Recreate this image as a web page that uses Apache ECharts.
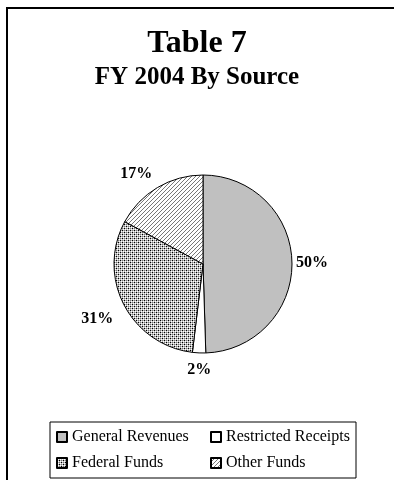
<!DOCTYPE html>
<html>
<head>
<meta charset="utf-8">
<script src="https://cdn.jsdelivr.net/npm/echarts@6/dist/echarts.min.js"></script>
<style>
html,body{margin:0;padding:0;background:#fff;}
#chart{width:394px;height:480px;}
</style>
</head>
<body>
<div id="chart"></div>
<script>
// ---- data ----
var titleText = 'Table 7';
var subtitleText = 'FY 2004 By Source';
var categories = ['General Revenues', 'Restricted Receipts', 'Federal Funds', 'Other Funds'];
var values = [49.5, 2.4, 31.0, 17.1];

// ---- patterns ----
function makeDots() {
  var c = document.createElement('canvas');
  c.width = 4; c.height = 4;
  var g = c.getContext('2d');
  g.fillStyle = '#bbbbbb'; g.fillRect(0, 0, 4, 4);
  function px(x, y, col) { g.fillStyle = col; g.fillRect(x, y, 1, 1); }
  px(0, 0, '#000'); px(2, 2, '#000');
  px(2, 0, '#777'); px(0, 2, '#777');
  px(1, 1, '#fff'); px(3, 3, '#fff'); px(1, 3, '#fff'); px(3, 1, '#fff');
  return c;
}
function makeHatch() {
  var c = document.createElement('canvas');
  c.width = 4; c.height = 4;
  var g = c.getContext('2d');
  g.fillStyle = '#ffffff'; g.fillRect(0, 0, 4, 4);
  g.fillStyle = '#777777';
  g.fillRect(0, 3, 1, 1); g.fillRect(1, 2, 1, 1); g.fillRect(2, 1, 1, 1); g.fillRect(3, 0, 1, 1);
  return c;
}
var fills = [
  '#c0c0c0',
  '#ffffff',
  { image: makeDots(), repeat: 'repeat' },
  { image: makeHatch(), repeat: 'repeat' }
];
// label placement tweaks (style only)
var labelLen = [0, 17, 30, 16];
var labelDist = [4, -13, -16, -3];

var serif = "'Liberation Serif', 'Times New Roman', Times, serif";

var data = categories.map(function (name, i) {
  return {
    name: name,
    value: values[i],
    itemStyle: { color: fills[i] },
    labelLine: { show: false, length: labelLen[i], length2: 0 },
    label: { distanceToLabelLine: labelDist[i] }
  };
});

var chart = echarts.init(document.getElementById('chart'), null, { renderer: 'canvas' });
chart.setOption({
  animation: false,
  backgroundColor: '#ffffff',
  title: [
    { text: titleText, left: 'center', top: 28, padding: 0,
      textStyle: { fontFamily: serif, fontSize: 32, fontWeight: 'bold', color: '#000' } },
    { text: subtitleText, left: 'center', top: 65, padding: 0,
      textStyle: { fontFamily: serif, fontSize: 25, fontWeight: 'bold', color: '#000' } }
  ],
  graphic: [
    { type: 'rect', z: -1, shape: { x: 7, y: 8, width: 420, height: 500 },
      style: { fill: 'none', stroke: '#000', lineWidth: 2 } }
  ],
  legend: {
    left: 50, top: 422,
    orient: 'horizontal',
    width: 300,
    padding: [7, 2, 7, 6],
    itemGap: 10,
    itemWidth: 10, itemHeight: 10,
    icon: 'rect',
    borderColor: '#000', borderWidth: 1,
    backgroundColor: '#fff',
    selectedMode: false,
    textStyle: { fontFamily: serif, fontSize: 16, color: '#000', width: 128, lineHeight: 16 },
    data: categories
  },
  series: [{
    type: 'pie',
    center: [203, 264],
    radius: 89,
    startAngle: 90,
    clockwise: true,
    avoidLabelOverlap: false,
    emphasis: { disabled: true },
    itemStyle: { borderColor: '#000', borderWidth: 1 },
    label: {
      show: true, position: 'outside',
      fontFamily: serif, fontSize: 16, fontWeight: 'bold', color: '#000',
      formatter: function (p) { return Math.round(p.percent) + '%'; }
    },
    labelLine: { show: false },
    data: data
  }]
});
</script>
</body>
</html>
